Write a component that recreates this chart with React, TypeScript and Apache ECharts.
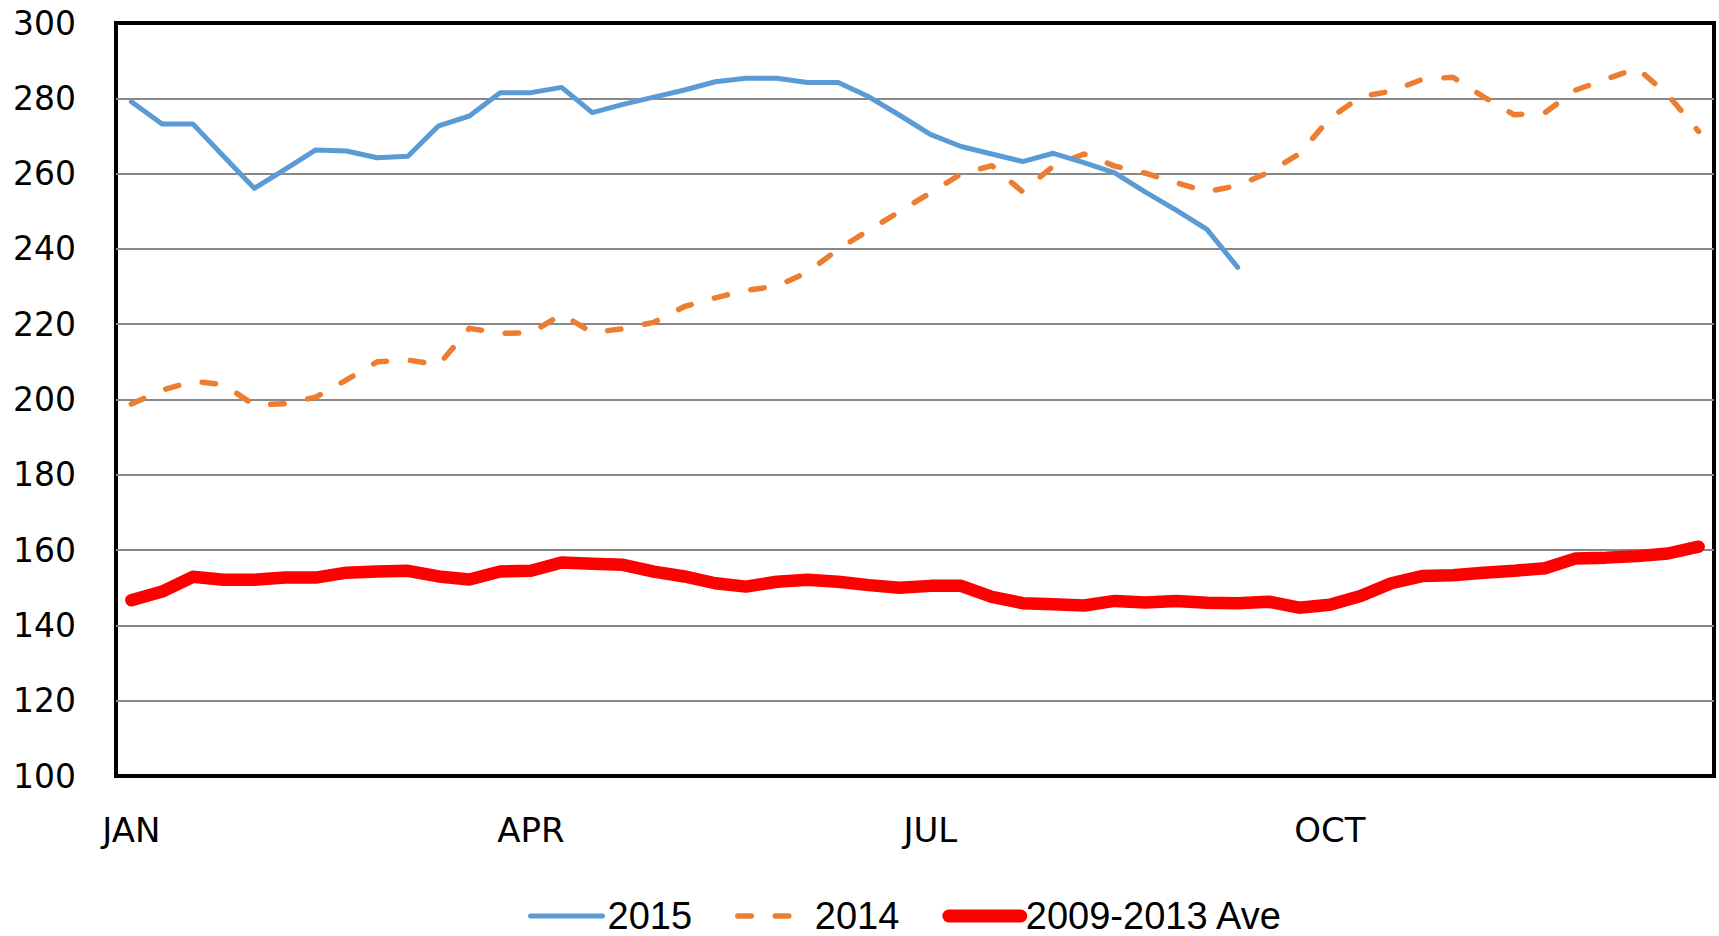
import React, { useEffect, useRef } from "react";
import * as echarts from "echarts";

const monthLabels = ["JAN", "APR", "JUL", "OCT"];
const weeks = Array.from({ length: 52 }, (_, i) => String(i + 1));

const s2015 = [279.1, 273.2, 273.2, 264.6, 256.1, 261.1, 266.3, 266.0, 264.2, 264.6, 272.7, 275.3, 281.5, 281.5, 282.9, 276.2, 278.4, 280.3, 282.2, 284.4, 285.3, 285.3, 284.2, 284.2, 280.4, 275.5, 270.4, 267.2, 265.2, 263.2, 265.4, 262.9, 260.2, 255.1, 250.3, 245.2, 235.1];

const s2014 = [198.8, 202.5, 204.8, 204.0, 198.5, 198.9, 200.6, 205.2, 210.0, 210.5, 209.2, 218.9, 217.6, 217.7, 222.6, 217.8, 218.8, 220.5, 224.7, 227.0, 229.0, 230.1, 233.8, 239.9, 245.0, 249.9, 254.9, 259.9, 262.1, 255.2, 262.0, 265.2, 262.0, 260.1, 257.6, 255.2, 256.8, 260.3, 265.2, 274.7, 280.4, 281.9, 285.0, 285.6, 280.4, 275.6, 276.2, 282.2, 285.1, 288.0, 280.9, 271.2];

const sAve = [146.7, 149.0, 152.9, 152.1, 152.1, 152.7, 152.7, 154.0, 154.3, 154.5, 153.0, 152.2, 154.3, 154.5, 156.7, 156.4, 156.1, 154.3, 153.0, 151.2, 150.3, 151.6, 152.1, 151.6, 150.7, 150.0, 150.5, 150.5, 147.6, 145.9, 145.6, 145.3, 146.5, 146.1, 146.5, 146.0, 145.9, 146.3, 144.7, 145.5, 147.8, 151.2, 153.1, 153.3, 154.0, 154.5, 155.2, 157.8, 158.0, 158.4, 159.1, 160.9];

const yTicks = { min: 100, max: 300, interval: 20 };

const BLUE = "#5B9BD5";
const ORANGE = "#ED7D31";
const RED = "#FF0000";
const DASH = [13.5, 24];

export default function App() {
  const ref = useRef<HTMLDivElement>(null);
  useEffect(() => {
    if (!ref.current) return;
    const chart = echarts.init(ref.current, undefined, { renderer: "svg" });
    const axisFont = "'DejaVu Sans', Verdana, sans-serif";
    const legendFont = "'Liberation Sans', Arial, sans-serif";
    const hiddenSymbol = { opacity: 0, borderWidth: 0, color: "transparent" };
    chart.setOption({
      animation: false,
      backgroundColor: "#ffffff",
      grid: {
        left: 116,
        right: 5,
        top: 23,
        bottom: 160,
        show: true,
        borderColor: "#000000",
        borderWidth: 4,
        containLabel: false,
      },
      xAxis: {
        type: "category",
        data: weeks,
        boundaryGap: true,
        axisTick: { show: false },
        axisLine: { show: false },
        axisLabel: {
          interval: (i: number) => i % 13 === 0,
          formatter: (_v: string, i: number) => monthLabels[Math.floor(i / 13)] ?? "",
          color: "#000",
          fontFamily: axisFont,
          fontSize: 34,
          margin: 37,
        },
        splitLine: { show: false },
      },
      yAxis: {
        type: "value",
        min: yTicks.min,
        max: yTicks.max,
        interval: yTicks.interval,
        axisLine: { show: false },
        axisTick: { show: false },
        axisLabel: {
          color: "#000",
          fontFamily: axisFont,
          fontSize: 33,
          margin: 40,
        },
        splitLine: {
          show: true,
          showMinLine: false,
          showMaxLine: false,
          lineStyle: { color: "#888888", width: 2 },
        },
      },
      legend: {
        left: 523,
        top: 892,
        itemWidth: 72,
        itemHeight: 14,
        itemGap: 43,
        textStyle: { fontFamily: legendFont, fontSize: 38, lineHeight: 36, color: "#000" },
        data: [
          { name: "2015", itemStyle: hiddenSymbol, lineStyle: { width: 5, color: BLUE, cap: "round" } },
          { name: "2014", itemStyle: hiddenSymbol, lineStyle: { width: 5.5, color: ORANGE, type: DASH, cap: "round" } },
          { name: "2009-2013 Ave", itemStyle: hiddenSymbol, lineStyle: { width: 13, color: RED, cap: "round" } },
        ],
      },
      series: [
        {
          name: "2015",
          type: "line",
          data: s2015,
          symbol: "none",
          lineStyle: { color: BLUE, width: 5, cap: "round", join: "round" },
          itemStyle: { color: BLUE },
          z: 3,
        },
        {
          name: "2014",
          type: "line",
          data: s2014,
          symbol: "none",
          lineStyle: { color: ORANGE, width: 5.5, type: DASH, cap: "round", join: "round" },
          itemStyle: { color: ORANGE },
          z: 2,
        },
        {
          name: "2009-2013 Ave",
          type: "line",
          data: sAve,
          symbol: "none",
          lineStyle: { color: RED, width: 12.5, cap: "round", join: "round" },
          itemStyle: { color: RED },
          z: 1,
        },
      ],
    });
    return () => chart.dispose();
  }, []);
  return (
    <div
      ref={ref}
      style={{ position: "fixed", left: 0, top: 0, width: 1719, height: 936 }}
    />
  );
}
